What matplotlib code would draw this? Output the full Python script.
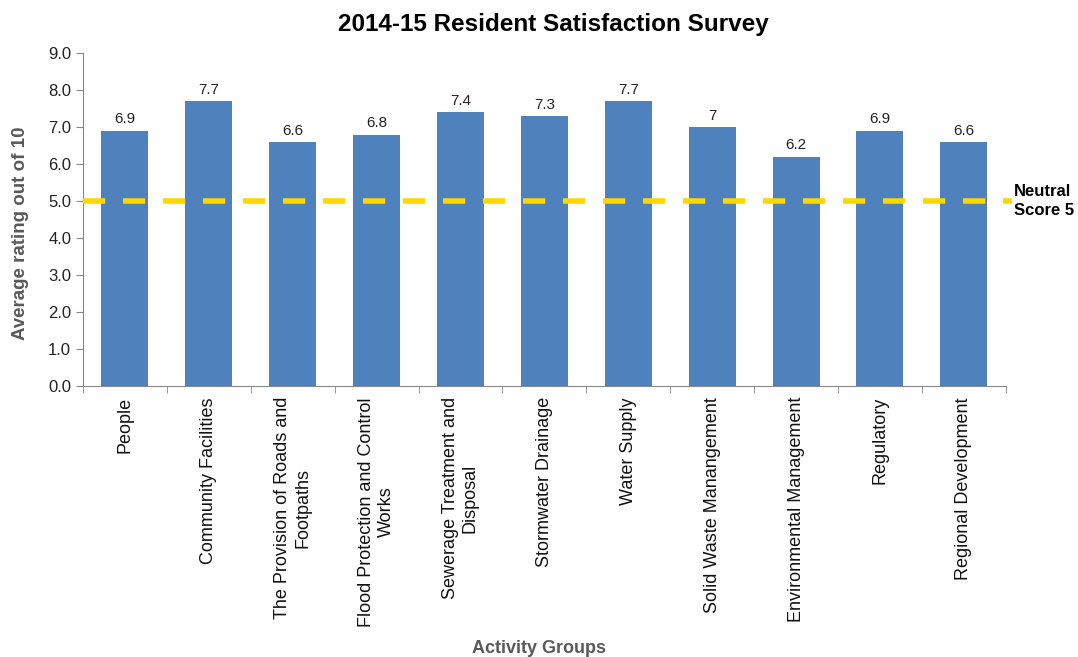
import numpy as np
import matplotlib.pyplot as plt

plt.rcParams['font.family'] = ['Liberation Sans', 'DejaVu Sans']

# Survey results by activity group
groups = [
    'People',
    'Community Facilities',
    'The Provision of Roads and\nFootpaths',
    'Flood Protection and Control\nWorks',
    'Sewerage Treatment and\nDisposal',
    'Stormwater Drainage',
    'Water Supply',
    'Solid Waste Manangement',
    'Environmental Management',
    'Regulatory',
    'Regional Development',
]
ratings = [6.9, 7.7, 6.6, 6.8, 7.4, 7.3, 7.7, 7.0, 6.2, 6.9, 6.6]
rating_labels = ['6.9', '7.7', '6.6', '6.8', '7.4', '7.3', '7.7', '7', '6.2', '6.9', '6.6']
neutral_score = 5

grey = '#595959'
bar_color = '#4F81BD'

fig = plt.figure(figsize=(10.78, 6.57), dpi=100)
ax = fig.add_axes([0.077, 0.4125, 0.856, 0.5065])

x = np.arange(len(groups))
bars = ax.bar(x, ratings, width=0.56, color=bar_color, zorder=2)

for xi, val, lab in zip(x, ratings, rating_labels):
    ax.text(xi, val + 0.12, lab, ha='center', va='bottom', fontsize=11, color='#222222')

# neutral reference line, runs slightly past the plot edge
ax.plot([-0.5, len(groups) - 0.43], [neutral_score, neutral_score],
        color='#FFD700', lw=4, dashes=(4, 3.2), clip_on=False, zorder=3)
ax.text(len(groups) - 0.4, neutral_score, 'Neutral\nScore 5', ha='left', va='center',
        fontsize=12, fontweight='bold', color='black', linespacing=1.3)

ax.set_xlim(-0.5, len(groups) - 0.5)
ax.set_ylim(0, 9)
ax.set_yticks(np.arange(0, 9.01, 1.0))
ax.set_yticklabels([f'{v:.1f}' for v in np.arange(0, 9.01, 1.0)])

ax.set_xticks(x)
ax.set_xticklabels(groups, rotation=90, ha='center', va='top', multialignment='center')
ax.set_xticks(np.arange(-0.5, len(groups)), minor=True)
ax.tick_params(axis='x', which='major', length=0, pad=8, labelsize=13, labelcolor='#111111')
ax.tick_params(axis='x', which='minor', length=5, color='#888888', direction='out')
ax.tick_params(axis='y', length=5, color='#888888', labelsize=12, labelcolor='#222222')

for side in ['top', 'right']:
    ax.spines[side].set_visible(False)
for side in ['left', 'bottom']:
    ax.spines[side].set_color('#888888')

ax.set_ylabel('Average rating out of 10', fontsize=13.5, fontweight='bold', color=grey,
              labelpad=10)
ax.yaxis.set_label_coords(-0.058, 0.46)
fig.text(0.5, 0.013, 'Activity Groups', ha='center', va='center', fontsize=13,
         fontweight='bold', color=grey)
fig.text(0.513, 0.962, '2014-15 Resident Satisfaction Survey', ha='center', va='center',
         fontsize=17.5, fontweight='bold')

fig.savefig('out.png', dpi=100)
